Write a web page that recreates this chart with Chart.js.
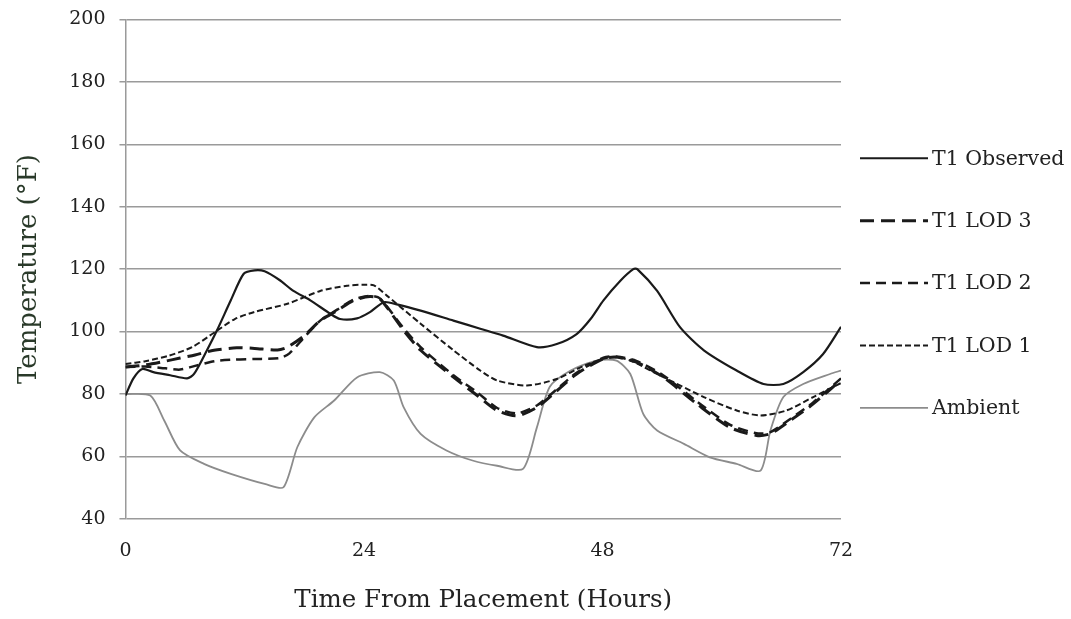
<!DOCTYPE html>
<html>
<head>
<meta charset="utf-8">
<script src="https://cdn.jsdelivr.net/npm/chart.js@4"></script>
<style>
  html, body { margin: 0; padding: 0; background: #fff; overflow: hidden; }
  #wrap { width: 1071px; height: 625px; margin-top: -6px; }
</style>
</head>
<body>
<div id="wrap"><canvas id="chart"></canvas></div>
<script>
const observedHours = [0, 0.8, 1.7, 2.8, 4.5, 6.2, 6.9, 8.2, 9.2, 10.6, 11.9, 13, 14, 15.5, 16.9, 18.6, 20.6, 21.6, 23.3, 24.6, 26, 27.3, 29.7, 33, 35.7, 38, 41.4, 43.4, 45.4, 46.8, 48.1, 49.8, 51.1, 51.5, 53.5, 55.8, 58.2, 61.5, 64.2, 66.2, 68.2, 70.2, 72];
const observedTemps = [79.5, 85, 88, 87, 86, 85, 86.4, 94, 100.3, 110, 118.5, 119.6, 119.3, 116.5, 113, 110, 105.7, 104, 104.2, 106.2, 109.4, 108.7, 106.7, 103.5, 100.9, 98.7, 95, 96, 99.2, 104, 110, 116.3, 120, 120, 113, 101.4, 94, 87.5, 83.2, 83.2, 87, 92.8, 101.5];

const lod3Hours = [0, 2, 4, 5.5, 7, 8.9, 11.2, 13, 15.3, 16.3, 18, 19.6, 21.3, 23, 24.6, 25.6, 28, 29.7, 33, 35.4, 37.4, 39.4, 41.4, 43.4, 45.4, 48.1, 49.4, 51.4, 54.1, 57.5, 60.8, 63.5, 64.9, 66.9, 69.2, 72];
const lod3Temps = [88.6, 89.3, 90.5, 91.5, 92.5, 94, 94.8, 94.6, 94.1, 95, 98.7, 103.5, 106.7, 110, 111.2, 110.5, 100.3, 94, 85.4, 79.5, 74.7, 73, 75.7, 81, 86.4, 91.3, 91.8, 90.2, 85.4, 76.8, 69.3, 66.7, 67.3, 71.5, 76.8, 84.5];

const lod2Hours = [0, 2, 4, 5.5, 7, 9, 11, 13, 15.5, 16.5, 18, 19.6, 21.3, 23, 24.6, 25.6, 28, 29.7, 33, 35.4, 37.4, 39.4, 41.4, 43.4, 45.4, 48.1, 49.4, 51.4, 54.1, 57.5, 60.8, 63.5, 64.9, 66.9, 69.2, 72];
const lod2Temps = [88.6, 88.8, 88.2, 87.8, 89, 90.5, 91, 91.2, 91.5, 93, 98.2, 103.5, 107, 110.3, 111.4, 110.6, 101, 95, 86, 80.5, 75.5, 73.8, 76.3, 81.5, 86.8, 91.6, 92, 90.6, 86, 77.6, 70.2, 67.4, 67.8, 72, 77.3, 85];

const lod1Hours = [0, 2, 4.4, 6.7, 9, 11, 12.9, 16.3, 19.6, 22.3, 24, 25, 26.3, 29.7, 33, 35.7, 37.4, 40.4, 43.4, 46.1, 48.8, 50.8, 53.5, 58.2, 61.5, 63.9, 66.5, 69.2, 72];
const lod1Temps = [89.6, 90.5, 92.3, 95, 99.8, 104, 106.2, 108.9, 113, 114.7, 115, 114.8, 111.5, 102.5, 94, 87.5, 84.3, 82.7, 84.8, 89, 91.8, 90.7, 86.4, 79, 74.7, 73.1, 74.7, 79, 83.5];

const ambientHours = [0, 2.5, 3.9, 5.5, 7.9, 10.6, 14.2, 15.9, 17.3, 19, 21, 23.3, 25.6, 27, 28, 29.7, 32.3, 35, 37.4, 40, 41.4, 42.7, 44.8, 47.4, 49.4, 50.8, 52.1, 53.5, 56.2, 58.8, 61.5, 63.9, 64.9, 66.2, 68.2, 70.9, 72];
const ambientTemps = [80, 79.5, 71.5, 61.9, 57.6, 54.4, 51, 50.1, 63, 72.5, 77.9, 85.3, 87, 84.3, 75.7, 67.2, 61.9, 58.6, 57, 56, 69.3, 82.3, 87.5, 90.7, 90.7, 86.4, 73.6, 68.3, 64, 59.7, 57.6, 55.4, 68.3, 79, 83.2, 86.4, 87.5];

const seriesNames = ["T1 Observed", "T1 LOD 3", "T1 LOD 2", "T1 LOD 1", "Ambient"];
const xTicks = [0, 24, 48, 72];
const yTicks = [40, 60, 80, 100, 120, 140, 160, 180, 200];

const FONT = "'DejaVu Serif', 'Liberation Serif', serif";

function toPoints(xs, ys) {
  return xs.map((x, i) => ({ x: x, y: ys[i] }));
}

// legend sits to the right, entries spaced like the gridlines but a bit lower
const sideLegend = {
  id: "sideLegend",
  afterDraw(chart) {
    const ctx = chart.ctx;
    const yScale = chart.scales.y;
    const x0 = chart.chartArea.right + 19;
    ctx.save();
    chart.data.datasets.forEach((ds, i) => {
      const y = yScale.getPixelForValue(160 - 20 * i) + 14;
      ctx.beginPath();
      ctx.strokeStyle = ds.borderColor;
      ctx.lineWidth = ds.borderWidth;
      ctx.setLineDash(ds.borderDash || []);
      ctx.moveTo(x0, y);
      ctx.lineTo(x0 + 68, y);
      ctx.stroke();
      ctx.setLineDash([]);
      ctx.fillStyle = "#222";
      ctx.font = "20.5px " + FONT;
      ctx.textBaseline = "middle";
      ctx.fillText(ds.label, x0 + 72, y + 1);
    });
    ctx.restore();
  }
};

const datasets = [
  { label: seriesNames[0], data: toPoints(observedHours, observedTemps), borderColor: "#1a1a1a", borderWidth: 2.2, borderDash: [] },
  { label: seriesNames[1], data: toPoints(lod3Hours, lod3Temps), borderColor: "#1a1a1a", borderWidth: 3, borderDash: [14, 7] },
  { label: seriesNames[2], data: toPoints(lod2Hours, lod2Temps), borderColor: "#1a1a1a", borderWidth: 2.5, borderDash: [10, 6] },
  { label: seriesNames[3], data: toPoints(lod1Hours, lod1Temps), borderColor: "#1a1a1a", borderWidth: 2, borderDash: [6, 3] },
  { label: seriesNames[4], data: toPoints(ambientHours, ambientTemps), borderColor: "#8c8c8c", borderWidth: 1.8, borderDash: [] }
];
datasets.forEach((ds) => {
  ds.pointRadius = 0;
  ds.fill = false;
  ds.tension = 0.25;
});

new Chart(document.getElementById("chart"), {
  type: "line",
  data: { datasets: datasets },
  options: {
    responsive: true,
    maintainAspectRatio: false,
    animation: false,
    layout: { padding: { left: 10, right: 230, top: 0, bottom: 0 } },
    plugins: {
      legend: { display: false },
      tooltip: { enabled: false }
    },
    scales: {
      x: {
        type: "linear",
        min: 0,
        max: 72,
        afterBuildTicks: (axis) => { axis.ticks = xTicks.map((v) => ({ value: v })); },
        grid: { display: false, drawTicks: true, tickLength: 6 },
        border: { display: false },
        ticks: { color: "#222", font: { family: FONT, size: 19 }, padding: 15 },
        title: { display: true, text: "Time From Placement (Hours)", color: "#222", font: { family: FONT, size: 24.5 }, padding: { top: 8 } }
      },
      y: {
        min: 40,
        max: 200,
        afterBuildTicks: (axis) => { axis.ticks = yTicks.map((v) => ({ value: v })); },
        grid: { color: "#9a9a9a", lineWidth: 1.5, tickLength: 6 },
        border: { display: true, color: "#9a9a9a", width: 1.5 },
        ticks: { color: "#222", font: { family: FONT, size: 19 }, padding: 14 },
        title: { display: true, text: "Temperature (\u00B0F)", color: "#2a3a2a", font: { family: FONT, size: 26 }, padding: { bottom: 10 } }
      }
    }
  },
  plugins: [sideLegend]
});
</script>
</body>
</html>
